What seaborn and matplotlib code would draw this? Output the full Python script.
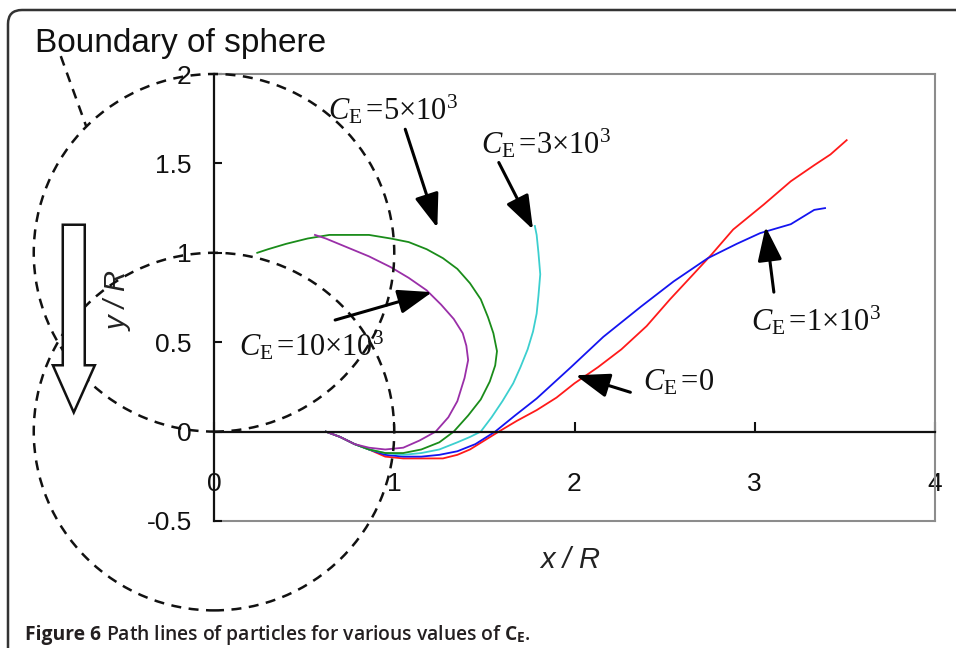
import numpy as np
import pandas as pd
import matplotlib
matplotlib.use("Agg")
import matplotlib.pyplot as plt
import seaborn as sns
from matplotlib.patches import Circle, Polygon, FancyBboxPatch
from matplotlib.transforms import IdentityTransform

# ---------------- data ----------------
series_names = ["C_E=0", "C_E=1e3", "C_E=3e3", "C_E=5e3", "C_E=10e3"]

red_x = [0.62, 0.70, 0.78, 0.86, 0.95, 1.05, 1.15, 1.27, 1.35, 1.42, 1.50, 1.58, 1.68, 1.79,
         1.90, 2.00, 2.13, 2.26, 2.40, 2.53, 2.65, 2.76, 2.88, 3.05, 3.20, 3.33, 3.42, 3.51]
red_y = [0.0, -0.03, -0.07, -0.10, -0.14, -0.15, -0.15, -0.15, -0.13, -0.10, -0.05, 0.0, 0.06, 0.12,
         0.19, 0.27, 0.36, 0.46, 0.59, 0.74, 0.87, 0.99, 1.13, 1.27, 1.40, 1.49, 1.55, 1.63]

blue_x = [0.62, 0.70, 0.78, 0.86, 0.95, 1.05, 1.15, 1.25, 1.35, 1.45, 1.56, 1.67, 1.79, 1.98,
          2.16, 2.37, 2.55, 2.74, 2.90, 3.03, 3.20, 3.33, 3.39]
blue_y = [0.0, -0.03, -0.07, -0.10, -0.13, -0.14, -0.14, -0.13, -0.11, -0.07, 0.0, 0.09, 0.185, 0.36,
          0.53, 0.70, 0.84, 0.97, 1.05, 1.11, 1.16, 1.24, 1.25]

cyan_x = [0.62, 0.70, 0.78, 0.86, 0.95, 1.05, 1.15, 1.25, 1.35, 1.42, 1.48, 1.54, 1.60, 1.66,
          1.70, 1.74, 1.77, 1.79, 1.80, 1.81, 1.80, 1.79, 1.78]
cyan_y = [0.0, -0.03, -0.07, -0.10, -0.12, -0.13, -0.12, -0.10, -0.06, -0.03, 0.0, 0.08, 0.17, 0.27,
          0.36, 0.46, 0.56, 0.66, 0.76, 0.88, 1.00, 1.10, 1.15]

green_x = [0.62, 0.70, 0.78, 0.86, 0.95, 1.05, 1.15, 1.25, 1.33, 1.41, 1.48, 1.53, 1.56, 1.57, 1.55,
           1.52, 1.48, 1.42, 1.35, 1.27, 1.18, 1.08, 0.98, 0.86, 0.76, 0.64, 0.52, 0.40, 0.30, 0.24]
green_y = [0.0, -0.03, -0.07, -0.10, -0.12, -0.12, -0.10, -0.06, 0.0, 0.09, 0.18, 0.28, 0.37, 0.45, 0.55,
           0.64, 0.74, 0.83, 0.91, 0.97, 1.02, 1.06, 1.08, 1.10, 1.10, 1.10, 1.08, 1.05, 1.02, 1.00]

purple_x = [0.62, 0.70, 0.78, 0.86, 0.95, 1.05, 1.14, 1.23, 1.30, 1.35, 1.39, 1.41, 1.40, 1.38,
            1.33, 1.26, 1.18, 1.08, 0.98, 0.86, 0.74, 0.62, 0.56]
purple_y = [0.0, -0.03, -0.07, -0.09, -0.10, -0.09, -0.05, 0.0, 0.08, 0.17, 0.30, 0.40, 0.48, 0.55,
            0.63, 0.71, 0.79, 0.86, 0.92, 0.98, 1.03, 1.08, 1.10]

x_ticks = [0, 1, 2, 3, 4]
x_tick_labels = ["0", "1", "2", "3", "4"]
y_ticks = [-0.5, 0, 0.5, 1, 1.5, 2]
y_tick_labels = ["-0.5", "0", "0.5", "1", "1.5", "2"]

# annotation labels: text, text position, arrow tail, arrow tip
ann_labels = [r"$C_{\mathrm{E}}\,$=5×10$^{3}$", r"$C_{\mathrm{E}}\,$=3×10$^{3}$",
              r"$C_{\mathrm{E}}\,$=10×10$^{3}$", r"$C_{\mathrm{E}}\,$=0",
              r"$C_{\mathrm{E}}\,$=1×10$^{3}$"]
ann_text_xy = [(0.63, 1.80), (1.48, 1.61), (0.14, 0.48), (2.38, 0.275), (2.98, 0.62)]
ann_tail = [(1.061, 1.691), (1.58, 1.505), (0.672, 0.624), (2.31, 0.22), (3.106, 0.78)]
ann_tip = [(1.239, 1.140), (1.77, 1.13), (1.21, 0.78), (2.006, 0.315), (3.06, 1.146)]

sphere_centers = [(0.0, 1.0), (0.0, 0.0)]
sphere_radius = 1.0

# ---------------- build frame ----------------
xs = [red_x, blue_x, cyan_x, green_x, purple_x]
ys = [red_y, blue_y, cyan_y, green_y, purple_y]
frames = []
for name, sx, sy in zip(series_names, xs, ys):
    frames.append(pd.DataFrame({"x": sx, "y": sy, "series": name, "order": np.arange(len(sx))}))
df = pd.concat(frames, ignore_index=True)

palette = {"C_E=0": "#ff1a1a", "C_E=1e3": "#1414f0", "C_E=3e3": "#3ccfcf",
           "C_E=5e3": "#1a8c1a", "C_E=10e3": "#9a2fa8"}

plt.rcParams["font.family"] = ["Liberation Sans", "DejaVu Sans"]
plt.rcParams["axes.unicode_minus"] = False
plt.rcParams["mathtext.fontset"] = "custom"
plt.rcParams["mathtext.rm"] = "Liberation Serif"
plt.rcParams["mathtext.it"] = "Liberation Serif:italic"
plt.rcParams["mathtext.bf"] = "Open Sans:bold"

W, H = 956, 648
fig = plt.figure(figsize=(W / 100, H / 100), dpi=100)
fig.patch.set_facecolor("white")
ax = fig.add_axes([214 / W, (H - 521) / H, (935 - 214) / W, (521 - 74) / H])

sns.lineplot(data=df, x="x", y="y", hue="series", palette=palette, sort=False,
             estimator=None, legend=False, linewidth=1.3, ax=ax)

ax.set_xlim(0, 4)
ax.set_ylim(-0.5, 2)
ax.set_xticks(x_ticks)
ax.set_xticklabels(x_tick_labels)
ax.set_yticks(y_ticks)
ax.set_yticklabels(y_tick_labels)

frame_gray = "#8c8c8c"
ax.spines["bottom"].set_position(("data", 0))
ax.spines["bottom"].set_color("#111111")
ax.spines["bottom"].set_linewidth(1.6)
ax.spines["left"].set_color("#111111")
ax.spines["left"].set_linewidth(1.6)
for s in ["top", "right"]:
    ax.spines[s].set_color(frame_gray)
    ax.spines[s].set_linewidth(1.5)
ax.axhline(-0.5, color=frame_gray, lw=1.5, clip_on=False, zorder=0.5)

ax.tick_params(axis="x", direction="in", length=7, width=1.5, pad=29, labelsize=19,
               colors="#111111")
ax.tick_params(axis="y", direction="in", length=6, width=1.5, pad=16, labelsize=19,
               colors="#111111")

ax.set_xlabel("x / R", fontsize=21, fontstyle="italic", color="#222222")
ax.xaxis.set_label_coords(0.494, -0.055)
ax.set_ylabel("y / R", fontsize=21, fontstyle="italic", color="#222222")
ax.yaxis.set_label_coords(-0.113, 0.492)

# sphere boundaries
for c in sphere_centers:
    ax.add_patch(Circle(c, sphere_radius, fill=False, ls=(0, (4, 3)), lw=1.8,
                        color="#111111", clip_on=False, zorder=3))
ax.plot([-0.85, -0.71], [2.10, 1.71], ls=(0, (4, 3)), lw=1.8, color="#111111",
        clip_on=False, zorder=3)

# hollow flow arrow
arrow_pts = [(-0.839, 1.157), (-0.717, 1.157), (-0.717, 0.371), (-0.661, 0.371),
             (-0.778, 0.107), (-0.894, 0.371), (-0.839, 0.371)]
ax.add_patch(Polygon(arrow_pts, closed=True, facecolor="white", edgecolor="#111111",
                     lw=1.8, clip_on=False, zorder=4))

# annotations
for lab, txy, tail, tip in zip(ann_labels, ann_text_xy, ann_tail, ann_tip):
    ax.annotate("", xy=tip, xytext=tail,
                arrowprops=dict(arrowstyle="-|>,head_length=0.95,head_width=0.34",
                                mutation_scale=22, lw=2.2, color="black",
                                shrinkA=0, shrinkB=0), zorder=5)
    ax.text(txy[0], txy[1], lab, fontsize=22, family="Liberation Serif", ha="left",
            va="center", color="#111111", zorder=5)

fig.text(35 / W, 1 - 52 / H, "Boundary of sphere", fontsize=24, family="Liberation Sans",
         va="baseline", ha="left", color="#111111")

# figure border (rounded top-left)
fig.patches.append(FancyBboxPatch((8, -60), 1100, H - 10 + 60,
                                  boxstyle="round,pad=0,rounding_size=14",
                                  transform=IdentityTransform(), fill=False,
                                  edgecolor="#333333", lw=1.8, figure=fig))

# caption
cap1 = fig.text(25 / W, 1 - 640 / H, "Figure 6", fontsize=13.9, family="Open Sans",
                fontweight="bold", va="baseline", ha="left", color="#231f20")
fig.canvas.draw()
bb = cap1.get_window_extent(fig.canvas.get_renderer())
fig.text((bb.x1 + 5) / W, 1 - 640 / H,
         r"Path lines of particles for various values of $\mathbf{C}_{\mathbf{E}}$.",
         fontsize=13.9, family="Open Sans", fontweight="semibold", va="baseline", ha="left",
         color="#231f20")

fig.savefig("out.png", dpi=100, facecolor="white")
